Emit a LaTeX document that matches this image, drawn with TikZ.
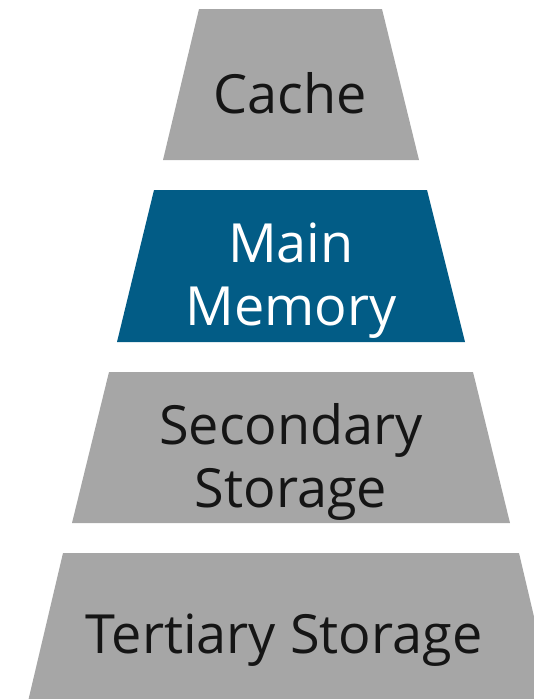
\documentclass[tikz,border=0pt]{standalone}
\usepackage{fontspec}
\setmainfont{Open Sans}
\definecolor{tiergray}{HTML}{A6A6A6}
\definecolor{tierblue}{HTML}{025C86}
\definecolor{tiertext}{HTML}{151515}
\begin{document}
\begin{tikzpicture}[x=1pt,y=-1pt,
  tier/.style={fill=tiergray,draw=none},
  tierhl/.style={fill=tierblue,draw=none},
  label/.style={font=\fontsize{54}{63}\selectfont,text=tiertext,inner sep=0pt,anchor=base,align=center},
  labelhl/.style={label,text=white}]
\useasboundingbox (0,0) rectangle (534,699);
\clip (0,0) rectangle (534,699);
\path[tier] (199,9) -- (382,9) -- (419,160) -- (163,160) -- cycle;
\path[tierhl] (154,190) -- (427,190) -- (465,342) -- (117,342) -- cycle;
\path[tier] (109,372) -- (473,372) -- (510,523) -- (72,523) -- cycle;
\path[tier] (63,553) -- (519,553) -- (556,710) -- (26,710) -- cycle;
\node[label] (cache) at (290,113) {Cache};
\node[labelhl] (main) at (291,325) {Main\\Memory};
\node[label] (sec) at (291,507) {Secondary\\Storage};
\node[label] (ter) at (284,653) {Tertiary Storage};
\end{tikzpicture}
\end{document}
